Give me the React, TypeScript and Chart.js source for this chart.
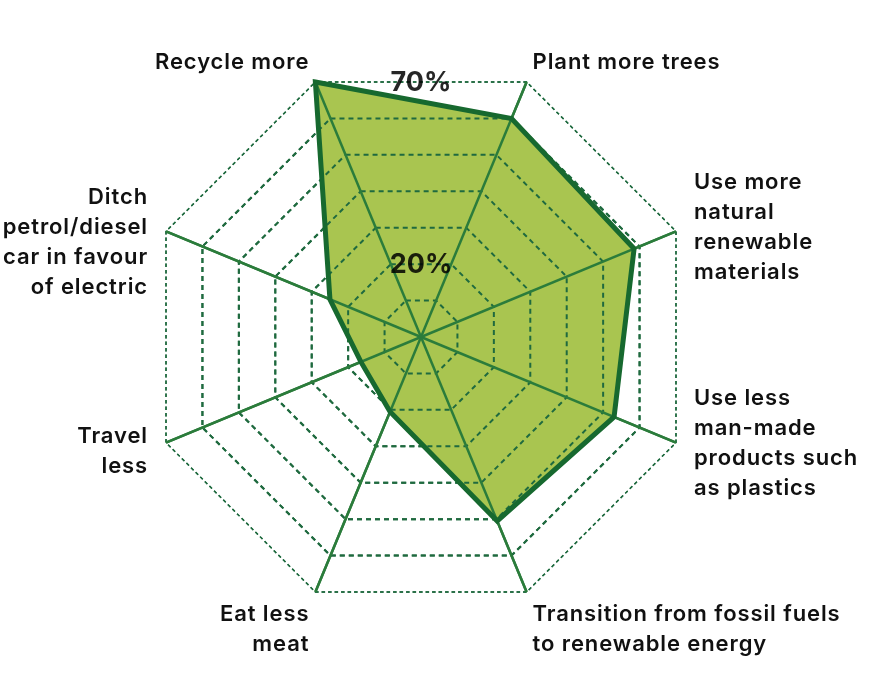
import React, { useEffect, useRef } from "react";
import { Chart, registerables } from "chart.js";

Chart.register(...registerables);

// ---- data ----
const categories: (string | string[])[] = [
  "Recycle more",
  "Plant more trees",
  ["Use more", "natural", "renewable", "materials"],
  ["Use less", "man-made", "products such", "as plastics"],
  ["Transition from fossil fuels", "to renewable energy"],
  ["Eat less", "meat"],
  ["Travel", "less"],
  ["Ditch", "petrol/diesel", "car in favour", "of electric"],
];
const values: number[] = [70, 60, 58.5, 53, 50.5, 20.5, 16.5, 25];
const shownTicks: number[] = [20, 70];
const scaleMin = 0;
const scaleMax = 70;
const scaleStep = 10;

// ---- styles ----
const FILL = "#a9c550";
const BORDER = "#17692f";
const ANGLE = "#2b7c3b";
const GRID = "#1f6a3f";
const LABEL_FONT = "600 22px Inter";
const LABEL_SPACING = "0.9px";
const TICK_FONT = "700 27px Inter";
const LINE_H = 30;
const labelNudgeY = [1, 1, -4, 1, 0, 0, 9, 11];

const redrawGridPlugin = {
  id: "gridOverFill",
  afterDatasetDraw(chart: any, args: any) {
    if (args.index === 0) {
      chart.scales.r.drawGrid();
    }
  },
};

const tickLabelPlugin = {
  id: "tickLabels",
  afterDatasetsDraw(chart: any) {
    const r = chart.scales.r;
    const ctx = chart.ctx;
    const n = categories.length;
    ctx.save();
    ctx.font = TICK_FONT;
    ctx.fillStyle = "rgba(0,0,0,0.85)";
    ctx.textAlign = "center";
    ctx.textBaseline = "middle";
    shownTicks.forEach((v) => {
      const d = r.getDistanceFromCenterForValue(v);
      const y = r.yCenter - d * Math.cos(Math.PI / n) + 1;
      ctx.fillText(v + "%", r.xCenter, y);
    });
    ctx.restore();
  },
};

const pointLabelPlugin = {
  id: "pointLabelsCustom",
  afterDraw(chart: any) {
    const r = chart.scales.r;
    const ctx = chart.ctx;
    ctx.save();
    ctx.font = LABEL_FONT;
    try {
      (ctx as any).letterSpacing = LABEL_SPACING;
    } catch (e) {}
    ctx.fillStyle = "#111111";
    ctx.textBaseline = "middle";
    categories.forEach((c, i) => {
      const lines = Array.isArray(c) ? c : [c];
      const p = r.getPointPosition(i, r.drawingArea);
      const a = r.getIndexAngle(i);
      const s = Math.sin(a);
      const co = Math.cos(a);
      const blockH = lines.length * LINE_H;
      let top: number;
      let dx: number;
      if (co > 0.7) {
        top = p.y - 6 - blockH;
        dx = 6;
      } else if (co < -0.7) {
        top = p.y + 7;
        dx = 6;
      } else {
        top = p.y - blockH / 2;
        dx = 18;
      }
      top += labelNudgeY[i];
      const left = s > 0;
      ctx.textAlign = left ? "left" : "right";
      const x = left ? p.x + dx : p.x - dx;
      lines.forEach((ln, k) => {
        ctx.fillText(ln, x, top + LINE_H * k + LINE_H / 2);
      });
    });
    ctx.restore();
  },
};

export default function App() {
  const ref = useRef<HTMLCanvasElement | null>(null);
  useEffect(() => {
    if (!ref.current) return;
    const chart = new Chart(ref.current, {
      type: "radar",
      data: {
        labels: categories,
        datasets: [
          {
            data: values,
            backgroundColor: FILL,
            borderWidth: 0,
            fill: true,
            pointRadius: 0,
            order: 2,
          },
          {
            data: values,
            backgroundColor: "rgba(0,0,0,0)",
            borderColor: BORDER,
            borderWidth: 5,
            borderJoinStyle: "miter",
            fill: false,
            pointRadius: 0,
            order: 1,
          },
        ],
      },
      options: {
        animation: false,
        responsive: true,
        maintainAspectRatio: false,
        layout: { padding: { left: 145, right: 178, top: 61, bottom: 78 } },
        plugins: { legend: { display: false }, tooltip: { enabled: false } },
        elements: { line: { tension: 0 } },
        scales: {
          r: {
            min: scaleMin,
            max: scaleMax,
            startAngle: -180 / categories.length,
            ticks: { display: false, stepSize: scaleStep },
            pointLabels: { display: false },
            angleLines: { display: true, color: ANGLE, lineWidth: 2.5 },
            grid: {
              color: GRID,
              lineWidth: (ctx: any) => (ctx.index === 7 ? 1.4 : 2),
            },
            border: {
              dash: (ctx: any) => (ctx.index === 7 ? [3.5, 3] : [5, 4]),
            },
          },
        },
      },
      plugins: [redrawGridPlugin, tickLabelPlugin, pointLabelPlugin],
    } as any);
    return () => chart.destroy();
  }, []);
  return (
    <div style={{ position: "fixed", left: 0, top: 0, width: 875, height: 691 }}>
      <canvas ref={ref} />
    </div>
  );
}
